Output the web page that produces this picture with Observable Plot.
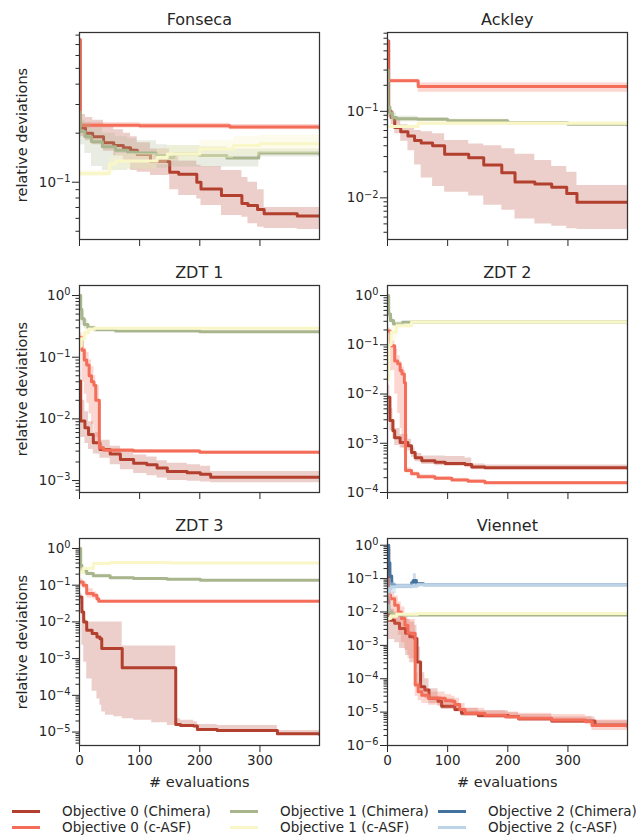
<!DOCTYPE html>
<html><head><meta charset="utf-8">
<script src="https://cdn.jsdelivr.net/npm/d3@7"></script>
<script src="https://cdn.jsdelivr.net/npm/@observablehq/plot@0.6"></script>
<style>
body{margin:0;background:#fff;font-family:"DejaVu Sans",sans-serif;color:#262626}
#fig{position:relative;width:636px;height:835px;overflow:hidden;background:#fff}
.abs{position:absolute;white-space:nowrap}
.title{font-size:16px;line-height:16px;transform:translateX(-50%)}
.ylab{font-size:14.5px;line-height:15px;transform:translate(-50%,-50%) rotate(-90deg)}
.xlab{font-size:14.5px;line-height:15px;transform:translate(-50%,-50%)}
.leg{font-size:13.5px;line-height:14px;transform:translateY(-50%);display:flex;align-items:center}
.leg i{display:inline-block;width:28px;height:3px;margin-right:22px}
</style></head><body><div id="fig"></div><script>
// ---------------- data ----------------
const evalTicks = [0, 100, 200, 300];
const panelTitles = ["Fonseca", "Ackley", "ZDT 1", "ZDT 2", "ZDT 3", "Viennet"];
const legendLabels = ["Objective 0 (Chimera)", "Objective 0 (c-ASF)", "Objective 1 (Chimera)",
                      "Objective 1 (c-ASF)", "Objective 2 (Chimera)", "Objective 2 (c-ASF)"];
const yDomains = [[0.0445, 0.83], [0.0033, 0.815], [6.4e-4, 1.455], [1e-4, 1.6], [4.3e-6, 1.87], [1e-6, 1.59]];

// rows: [evaluation, mean, lower, upper]
const fonseca_obj0_chimera = [
  [0,0.75,0.70,0.80],[1,0.215,0.19,0.26],[10,0.20,0.18,0.25],[22,0.19,0.17,0.24],[40,0.175,0.155,0.22],
  [57,0.168,0.145,0.21],[73,0.163,0.135,0.20],[85,0.157,0.118,0.19],[96,0.148,0.115,0.175],[118,0.134,0.11,0.16],
  [150,0.115,0.09,0.145],[165,0.112,0.083,0.135],[195,0.10,0.079,0.127],[202,0.091,0.072,0.125],[236,0.083,0.0625,0.118],
  [270,0.074,0.061,0.107],[280,0.072,0.0556,0.10],[296,0.068,0.053,0.09],[307,0.064,0.052,0.07],[362,0.062,0.0513,0.07],[399,0.062,0.0513,0.07]];
const fonseca_obj0_casf = [[0,0.75,0.7,0.8],[1,0.224,0.215,0.232],[100,0.222,0.213,0.23],[250,0.218,0.21,0.226],[399,0.216,0.208,0.224]];
const fonseca_obj1_chimera = [
  [0,0.27,0.24,0.30],[1,0.205,0.17,0.24],[9,0.19,0.15,0.23],[20,0.177,0.125,0.215],[38,0.165,0.118,0.20],[60,0.157,0.118,0.19],
  [80,0.153,0.12,0.185],[96,0.151,0.12,0.18],[128,0.146,0.122,0.17],[146,0.142,0.124,0.168],[157,0.149,0.124,0.168],
  [200,0.146,0.124,0.165],[245,0.141,0.124,0.16],[298,0.151,0.143,0.16],[399,0.149,0.142,0.158]];
const fonseca_obj1_casf = [
  [0,0.113,0.108,0.118],[50,0.13,0.115,0.145],[60,0.135,0.12,0.15],[129,0.142,0.128,0.16],[146,0.149,0.135,0.168],
  [200,0.16,0.14,0.18],[256,0.168,0.145,0.19],[300,0.172,0.15,0.195],[399,0.172,0.15,0.195]];

const ackley_obj0_chimera = [
  [0,0.65,0.6,0.7],[2,0.10,0.085,0.115],[6,0.085,0.07,0.10],[12,0.065,0.055,0.08],[22,0.058,0.045,0.07],[34,0.052,0.035,0.065],
  [45,0.046,0.024,0.06],[56,0.043,0.017,0.058],[75,0.040,0.0135,0.055],[95,0.032,0.0116,0.046],[135,0.029,0.0105,0.042],
  [160,0.024,0.0082,0.04],[190,0.0195,0.0072,0.037],[212,0.0152,0.0057,0.032],[245,0.0145,0.005,0.027],[273,0.0133,0.0047,0.023],
  [298,0.0112,0.0044,0.0198],[315,0.0089,0.0043,0.0139],[399,0.0089,0.0043,0.0139]];
const ackley_obj0_casf = [[0,0.65,0.6,0.7],[1,0.226,0.215,0.235],[51,0.194,0.166,0.212],[399,0.194,0.166,0.212]];
const ackley_obj1_chimera = [
  [0,0.30,0.25,0.35],[1,0.11,0.09,0.14],[4,0.095,0.08,0.115],[8,0.085,0.075,0.095],[15,0.082,0.076,0.088],[50,0.081,0.077,0.085],
  [100,0.078,0.075,0.081],[200,0.074,0.072,0.076],[300,0.071,0.069,0.073],[399,0.069,0.067,0.071]];
const ackley_obj1_casf = [[0,0.0666,0.064,0.069],[51,0.0727,0.069,0.076],[399,0.0716,0.069,0.075]];

const zdt1_obj0_chimera = [
  [0,0.041,0.02,0.06],[2,0.0092,0.005,0.02],[9,0.0072,0.004,0.013],[15,0.0056,0.0032,0.009],[23,0.0041,0.0027,0.006],
  [34,0.0032,0.0023,0.0045],[51,0.0027,0.0018,0.0036],[68,0.0022,0.0015,0.003],[90,0.0019,0.0013,0.0026],[112,0.0018,0.0012,0.0024],
  [129,0.0016,0.0011,0.0021],[146,0.0014,0.001,0.0019],[179,0.00134,0.00097,0.0018],[201,0.00126,0.00095,0.0017],
  [218,0.00113,0.00092,0.0014],[399,0.00113,0.0009,0.00126]];
const zdt1_obj0_casf = [
  [0,0.21,0.15,0.25],[4,0.13,0.04,0.18],[8,0.09,0.025,0.14],[12,0.075,0.018,0.12],[16,0.05,0.012,0.09],[20,0.04,0.008,0.07],
  [24,0.035,0.006,0.05],[27,0.02,0.005,0.035],[33,0.0034,0.0031,0.0037],[40,0.0031,0.0029,0.0033],[90,0.003,0.0028,0.0032],
  [200,0.00287,0.0027,0.003],[399,0.00282,0.0027,0.003]];
const zdt1_obj1_chimera = [
  [0,1.0,0.8,1.1],[2,0.6,0.45,0.8],[4,0.42,0.33,0.55],[8,0.34,0.29,0.4],[14,0.30,0.28,0.32],[25,0.28,0.27,0.29],
  [60,0.265,0.258,0.272],[200,0.258,0.252,0.264],[399,0.253,0.247,0.259]];
const zdt1_obj1_casf = [[0,0.15,0.1,0.2],[3,0.2,0.15,0.24],[8,0.25,0.22,0.28],[15,0.285,0.27,0.3],[25,0.295,0.285,0.305],[399,0.29,0.28,0.3]];

const zdt2_obj0_chimera = [
  [0,0.0086,0.004,0.015],[4,0.0029,0.0018,0.005],[9,0.0018,0.0012,0.003],[12,0.0013,0.0009,0.002],[21,0.00104,0.0008,0.0015],
  [34,0.00089,0.0007,0.0012],[40,0.00065,0.00052,0.0008],[46,0.00051,0.00042,0.00062],[57,0.00044,0.00037,0.00055],
  [79,0.00041,0.00035,0.00055],[96,0.00039,0.00034,0.00054],[129,0.00037,0.00032,0.0005],[140,0.00033,0.00029,0.00038],
  [162,0.00032,0.00029,0.00036],[399,0.00031,0.00028,0.00035]];
const zdt2_obj0_casf = [
  [0,0.19,0.12,0.22],[5,0.096,0.03,0.12],[12,0.047,0.01,0.08],[17,0.041,0.004,0.06],[21,0.030,0.002,0.045],[24,0.0255,0.0008,0.035],
  [28,0.017,0.0005,0.03],[30,0.00028,0.00025,0.00032],[40,0.00024,0.00022,0.00026],[51,0.00021,0.00019,0.00023],
  [79,0.000195,0.00018,0.00021],[107,0.00018,0.000168,0.000195],[134,0.00017,0.00016,0.000182],[162,0.000158,0.00015,0.000168],
  [399,0.000155,0.000147,0.000163]];
const zdt2_obj1_chimera = [[0,1.0,0.85,1.1],[2,0.42,0.35,0.5],[5,0.31,0.27,0.36],[10,0.265,0.24,0.29],[25,0.287,0.275,0.3],[40,0.29,0.28,0.3],[399,0.27,0.26,0.28]];
const zdt2_obj1_casf = [[0,0.02,0.005,0.1],[2,0.1,0.04,0.16],[6,0.18,0.12,0.23],[15,0.245,0.22,0.27],[40,0.29,0.28,0.3],[399,0.27,0.26,0.28]];

const zdt3_obj0_chimera = [
  [0,0.048,0.03,0.06],[4,0.0187,0.0023,0.025],[7,0.010,0.0008,0.012],[12,0.0059,0.00028,0.01],[21,0.0048,0.00013,0.01],
  [29,0.0039,0.00008,0.01],[34,0.0035,0.000054,0.01],[37,0.0019,0.000035,0.01],[43,0.0019,0.0000285,0.01],[57,0.0019,0.000026,0.01],
  [71,0.00056,0.000023,0.0022],[90,0.00056,0.000021,0.0022],[120,0.00056,0.000018,0.0022],[146,0.00056,0.000015,0.0022],
  [160,0.000016,0.0000145,0.000023],[168,0.000015,0.000014,0.000021],[190,0.0000146,0.000013,0.000019],[196,0.0000118,0.000011,0.000016],
  [229,0.000011,0.0000105,0.000015],[329,0.000009,0.0000085,0.000011],[399,0.0000086,0.0000075,0.0000095]];
const zdt3_obj0_casf = [[0,0.123,0.1,0.15],[6,0.1,0.08,0.12],[12,0.059,0.045,0.08],[23,0.053,0.042,0.065],[29,0.043,0.036,0.05],[32,0.0366,0.034,0.039],[399,0.0366,0.034,0.039]];
const zdt3_obj1_chimera = [
  [0,1.0,0.8,1.1],[2,0.35,0.25,0.5],[4,0.256,0.2,0.3],[12,0.208,0.18,0.23],[23,0.18,0.165,0.2],[51,0.159,0.15,0.17],
  [90,0.152,0.145,0.16],[146,0.146,0.14,0.153],[201,0.137,0.131,0.144],[399,0.137,0.131,0.144]];
const zdt3_obj1_casf = [[0,0.23,0.18,0.28],[6,0.285,0.26,0.31],[23,0.39,0.36,0.42],[51,0.415,0.39,0.44],[150,0.4,0.38,0.43],[399,0.39,0.37,0.42]];

const viennet_obj0_chimera = [
  [0,0.8,0.6,0.9],[2,0.0057,0.0015,0.012],[12,0.0046,0.0012,0.01],[20,0.0032,0.0008,0.008],[30,0.0023,0.0005,0.006],
  [37,0.0018,0.0003,0.005],[45,0.0016,0.0002,0.004],[49,0.00032,0.00006,0.0009],[55,0.000058,0.00003,0.00015],
  [62,0.000046,0.000025,0.0001],[69,0.000026,0.000018,0.00005],[84,0.000021,0.000015,0.00003],[90,0.000015,0.000012,0.000025],
  [112,0.000012,0.00001,0.000018],[123,0.0000092,0.0000075,0.000013],[151,0.0000079,0.0000066,0.000011],
  [201,0.0000074,0.0000062,0.0000095],[218,0.0000063,0.0000053,0.0000085],[273,0.0000054,0.0000046,0.0000072],
  [345,0.0000041,0.0000035,0.0000055],[399,0.0000041,0.0000035,0.0000055]];
const viennet_obj0_casf = [
  [0,0.032,0.008,0.045],[5,0.025,0.006,0.04],[12,0.016,0.004,0.03],[18,0.01,0.002,0.02],[23,0.0064,0.0012,0.014],
  [29,0.004,0.0007,0.009],[34,0.0023,0.0004,0.006],[46,0.000065,0.00003,0.00015],[51,0.000041,0.000022,0.00008],
  [57,0.000032,0.000018,0.00005],[68,0.000026,0.000016,0.00004],[96,0.000022,0.000014,0.000033],[107,0.000021,0.000013,0.00003],
  [112,0.000017,0.000012,0.000026],[120,0.000012,0.00001,0.000018],[129,0.0000092,0.0000075,0.000013],
  [162,0.0000081,0.0000066,0.000011],[196,0.0000073,0.000006,0.00001],[218,0.0000065,0.0000053,0.0000092],
  [273,0.0000058,0.0000047,0.0000085],[329,0.0000052,0.0000042,0.0000075],[340,0.000004,0.0000028,0.0000058],
  [399,0.0000037,0.0000025,0.0000055]];
const viennet_obj1_chimera = [[0,0.016,0.01,0.025],[2,0.01,0.008,0.013],[7,0.0081,0.0072,0.009],[399,0.0081,0.0074,0.0088]];
const viennet_obj1_casf = [[0,0.0064,0.005,0.008],[5,0.0075,0.0068,0.0085],[15,0.0085,0.0078,0.0093],[50,0.009,0.0083,0.0097],[399,0.009,0.0084,0.0096]];
const viennet_obj2_chimera = [
  [0,1.0,0.6,1.1],[2,0.3,0.15,0.5],[4,0.12,0.08,0.2],[7,0.065,0.055,0.08],[12,0.06,0.055,0.066],[40,0.075,0.065,0.09],
  [43,0.088,0.07,0.14],[48,0.07,0.066,0.075],[60,0.066,0.063,0.069],[399,0.064,0.061,0.067]];
const viennet_obj2_casf = [[0,0.04,0.001,0.15],[2,0.05,0.01,0.1],[6,0.057,0.035,0.075],[15,0.06,0.05,0.07],[50,0.066,0.062,0.07],[399,0.065,0.062,0.068]];

const panelSeries = [
  [fonseca_obj0_chimera, fonseca_obj0_casf, fonseca_obj1_chimera, fonseca_obj1_casf],
  [ackley_obj0_chimera, ackley_obj0_casf, ackley_obj1_chimera, ackley_obj1_casf],
  [zdt1_obj0_chimera, zdt1_obj0_casf, zdt1_obj1_chimera, zdt1_obj1_casf],
  [zdt2_obj0_chimera, zdt2_obj0_casf, zdt2_obj1_chimera, zdt2_obj1_casf],
  [zdt3_obj0_chimera, zdt3_obj0_casf, zdt3_obj1_chimera, zdt3_obj1_casf],
  [viennet_obj0_chimera, viennet_obj0_casf, viennet_obj1_chimera, viennet_obj1_casf, viennet_obj2_chimera, viennet_obj2_casf]];

// ---------------- style / layout ----------------
const COLORS = ["#b3402e", "#f46d58", "#a9b58d", "#f9f6c8", "#44729f", "#bcd3e8"];
const BAND_OP = [0.25, 0.27, 0.25, 0.35, 0.25, 0.45];
const FW = 240, FH = 207, ML = 60, MR = 4, MT = 4, MB = 24;
const colLeft = [79.3, 387.3], rowTop = [31.7, 285, 538.3];
const fmtPow = v => "10^" + Math.round(Math.log10(v));

const fig = document.getElementById("fig");
function addDiv(cls, text, left, top) {
  const d = document.createElement("div");
  d.className = "abs " + cls; d.textContent = text;
  d.style.left = left + "px"; d.style.top = top + "px";
  fig.appendChild(d); return d;
}

panelTitles.forEach((title, i) => {
  const col = i % 2, row = Math.floor(i / 2);
  const fx = colLeft[col], fy = rowTop[row];
  const [lo, hi] = yDomains[i];
  const majors = [], minors = [];
  for (let e = Math.floor(Math.log10(lo)); e <= Math.ceil(Math.log10(hi)); e++)
    for (let m = 1; m < 10; m++) {
      const v = m * Math.pow(10, e);
      if (v >= lo * 0.999 && v <= hi * 1.001) (m === 1 ? majors : minors).push(v);
    }
  const bottom = row === 2;
  const marks = [];
  panelSeries[i].forEach((rows, k) => {
    marks.push(Plot.areaY(rows, {x: d => d[0], y1: d => d[2], y2: d => d[3], curve: "step-after",
      fill: COLORS[k], fillOpacity: BAND_OP[k], clip: true}));
    marks.push(Plot.line(rows, {x: d => d[0], y: d => d[1], curve: "step-after",
      stroke: COLORS[k], strokeWidth: 3, clip: true}));
  });
  marks.push(Plot.axisY({ticks: minors, tickSize: 3.5, tickFormat: () => "", label: null}));
  marks.push(Plot.axisY({ticks: majors, tickSize: 7, tickPadding: 2, tickFormat: fmtPow, label: null}));
  marks.push(Plot.axisX({ticks: evalTicks, tickSize: 7, tickPadding: 3,
    tickFormat: bottom ? (d => String(d)) : (() => ""), label: null}));
  marks.push(Plot.frame({stroke: "#333", strokeWidth: 1.25}));
  const svg = Plot.plot({
    width: ML + FW + MR, height: MT + FH + MB,
    marginLeft: ML, marginRight: MR, marginTop: MT, marginBottom: MB,
    x: {domain: [0, 399]},
    y: {type: "log", domain: [lo, hi]},
    style: {fontFamily: "DejaVu Sans", fontSize: "13.5px", color: "#262626", background: "transparent", overflow: "visible"},
    marks
  });
  // render "10^-1" labels as 10 with a raised, smaller exponent
  svg.querySelectorAll("text").forEach(t => {
    const s = t.textContent;
    const m = /^10\^(-?\d+)$/.exec(s);
    if (!m) return;
    t.textContent = "10";
    const ts = document.createElementNS("http://www.w3.org/2000/svg", "tspan");
    ts.setAttribute("dy", "-0.45em");
    ts.setAttribute("font-size", "9.8px");
    ts.textContent = m[1].replace("-", "\u2212");
    t.appendChild(ts);
  });
  const wrap = document.createElement("div");
  wrap.className = "abs";
  wrap.style.left = (fx - ML) + "px"; wrap.style.top = (fy - MT) + "px";
  wrap.appendChild(svg); fig.appendChild(wrap);
  addDiv("title", title, fx + FW / 2, fy - 20);
  if (col === 0) addDiv("ylab", "relative deviations", 22, fy + FH / 2);
  if (bottom) addDiv("xlab", "# evaluations", fx + FW / 2, 782);
});

// legend (3 columns x 2 rows, column-major)
const legX = [12, 230, 438], legY = [811, 827];
legendLabels.forEach((lab, k) => {
  const d = addDiv("leg", "", legX[Math.floor(k / 2)], legY[k % 2]);
  const sw = document.createElement("i"); sw.style.background = COLORS[k];
  d.appendChild(sw); d.appendChild(document.createTextNode(lab));
});
</script></body></html>
